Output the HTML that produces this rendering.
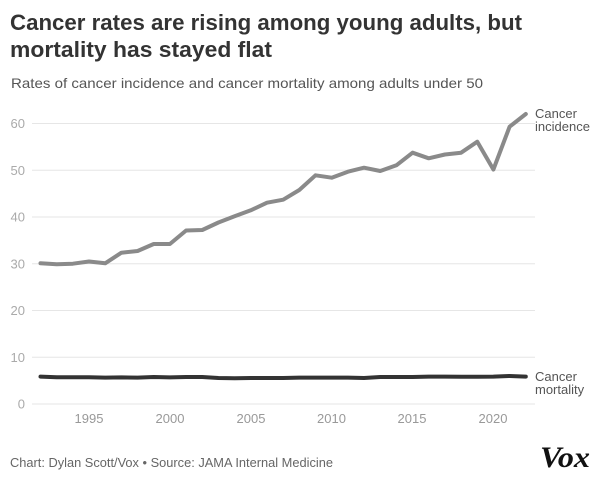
<!DOCTYPE html>
<html><head><meta charset="utf-8"><style>
html,body{margin:0;padding:0;background:#fff;}
svg{display:block;}
</style></head><body>
<svg width="600" height="479" viewBox="0 0 600 479" xmlns="http://www.w3.org/2000/svg" font-family="Liberation Sans, sans-serif">
<rect width="600" height="479" fill="#fff"/>
<text x="10" y="30" font-size="22" font-weight="bold" fill="#333" textLength="512" lengthAdjust="spacingAndGlyphs">Cancer rates are rising among young adults, but</text>
<text x="10" y="57" font-size="22" font-weight="bold" fill="#333" textLength="262" lengthAdjust="spacingAndGlyphs">mortality has stayed flat</text>
<text x="11" y="88" font-size="14" fill="#555" textLength="472" lengthAdjust="spacingAndGlyphs">Rates of cancer incidence and cancer mortality among adults under 50</text>
<g stroke="#e6e6e6" stroke-width="1">
<line x1="32" x2="535" y1="123.5" y2="123.5"/>
<line x1="32" x2="535" y1="170.3" y2="170.3"/>
<line x1="32" x2="535" y1="217" y2="217"/>
<line x1="32" x2="535" y1="263.8" y2="263.8"/>
<line x1="32" x2="535" y1="310.5" y2="310.5"/>
<line x1="32" x2="535" y1="357.3" y2="357.3"/>
<line x1="32" x2="535" y1="404" y2="404"/>
</g>
<g font-size="13" fill="#aaa" text-anchor="end">
<text x="25" y="128">60</text>
<text x="25" y="175">50</text>
<text x="25" y="221.5">40</text>
<text x="25" y="268.5">30</text>
<text x="25" y="315">20</text>
<text x="25" y="362">10</text>
<text x="25" y="408.5">0</text>
</g>
<g font-size="13" fill="#999" text-anchor="middle">
<text x="89" y="423">1995</text>
<text x="170" y="423">2000</text>
<text x="251" y="423">2005</text>
<text x="331.5" y="423">2010</text>
<text x="412" y="423">2015</text>
<text x="493" y="423">2020</text>
</g>
<polyline fill="none" stroke="#8a8a8a" stroke-width="4" stroke-linejoin="round" stroke-linecap="round" points="40.5,263.3 56.7,264.3 72.9,263.7 89,261.5 105.2,263.3 121.4,252.7 137.6,251 153.7,244 169.9,244 186.1,230.5 202.3,230 218.4,222.5 234.6,216.3 250.8,210.3 267,202.7 283.2,199.7 299.3,190 315.5,175.3 331.7,177.7 347.9,171.7 364,167.7 380.2,171 396.4,165.3 412.6,152.7 428.7,158.3 444.9,154.5 461.1,152.7 477.3,141.7 493.4,169.5 509.6,126.7 525.8,114"/>
<polyline fill="none" stroke="#333" stroke-width="4" stroke-linejoin="round" stroke-linecap="round" points="40.5,376.6 56.7,377.2 72.9,377.2 89,377.2 105.2,377.6 121.4,377.4 137.6,377.6 153.7,377 169.9,377.4 186.1,377 202.3,377 218.4,378 234.6,378.3 250.8,378 267,378 283.2,378 299.3,377.6 315.5,377.6 331.7,377.6 347.9,377.6 364,378 380.2,377 396.4,377 412.6,377 428.7,376.6 444.9,376.6 461.1,376.8 477.3,376.8 493.4,376.6 509.6,376 525.8,376.6"/>
<g font-size="13" fill="#555">
<text x="535" y="118">Cancer</text>
<text x="535" y="131">incidence</text>
<text x="535" y="381">Cancer</text>
<text x="535" y="394">mortality</text>
</g>
<text x="10" y="467" font-size="13" fill="#666" textLength="323" lengthAdjust="spacingAndGlyphs">Chart: Dylan Scott/Vox • Source: JAMA Internal Medicine</text>
<text x="540" y="467" font-family="Liberation Serif, serif" font-size="30" font-weight="bold" font-style="italic" fill="#111" textLength="50" lengthAdjust="spacingAndGlyphs">Vox</text>
</svg>
</body></html>
